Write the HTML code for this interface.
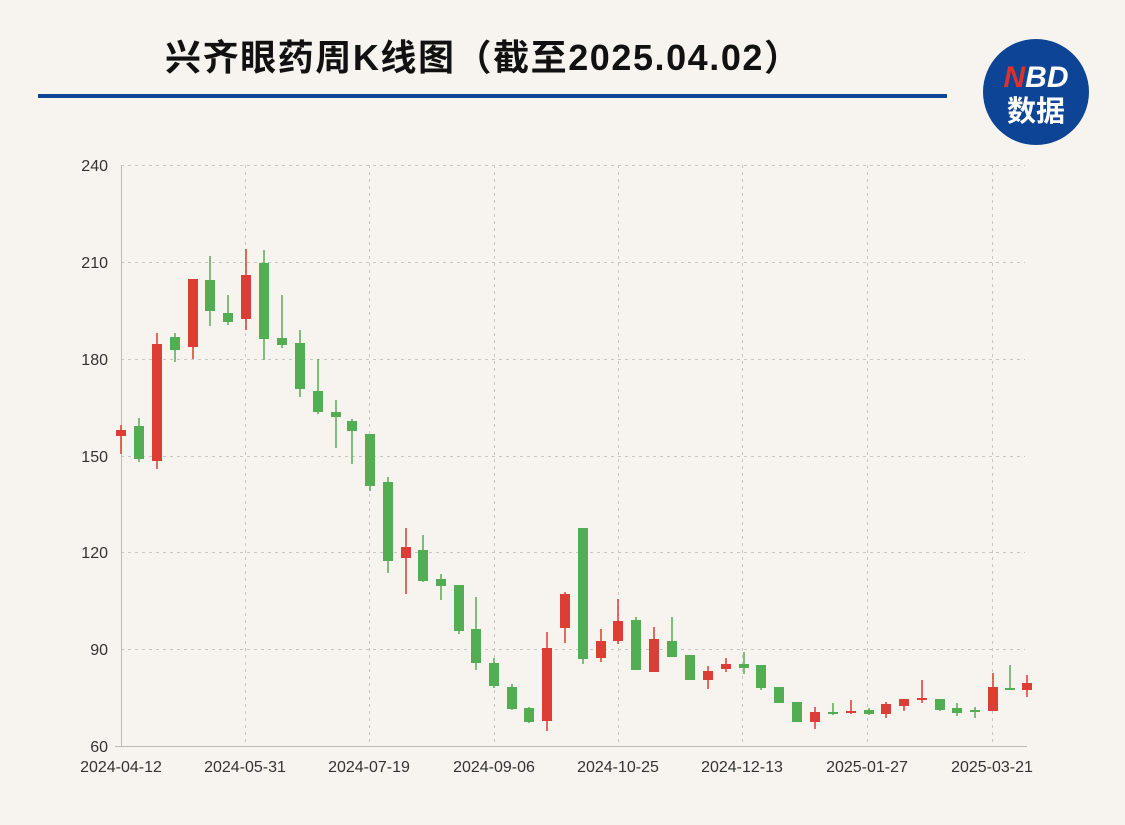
<!DOCTYPE html>
<html><head><meta charset="utf-8"><style>
body{margin:0;background:#f7f4ef;}
svg{display:block}
</style></head><body>
<svg width="1125" height="825" viewBox="0 0 1125 825" xmlns="http://www.w3.org/2000/svg" font-family="'Liberation Sans','Noto Sans CJK SC',sans-serif">
<rect width="1125" height="825" fill="#f7f4ef"/>
<text x="165" y="70" font-size="36" font-weight="bold" fill="#111" textLength="635" lengthAdjust="spacing" font-family="'Liberation Sans','Noto Sans CJK SC',sans-serif">兴齐眼药周K线图（截至2025.04.02）</text>
<rect x="38" y="94" width="909" height="4" fill="#0e4495"/>
<circle cx="1036" cy="92" r="53" fill="#0e4495"/>
<text x="1036" y="87" text-anchor="middle" font-size="30" font-weight="bold" fill="#fff" font-style="italic"><tspan fill="#e0302a">N</tspan>BD</text>
<text x="1036" y="121" text-anchor="middle" font-size="29" font-weight="bold" fill="#fff" font-family="'Noto Sans CJK SC',sans-serif">数据</text>
<g stroke="#c8c6c2" stroke-width="1" stroke-dasharray="3,4">
<line x1="121" y1="165.5" x2="1025" y2="165.5"/>
<line x1="121" y1="262.5" x2="1025" y2="262.5"/>
<line x1="121" y1="359.5" x2="1025" y2="359.5"/>
<line x1="121" y1="456.5" x2="1025" y2="456.5"/>
<line x1="121" y1="552.5" x2="1025" y2="552.5"/>
<line x1="121" y1="649.5" x2="1025" y2="649.5"/>
<line x1="245.5" y1="165" x2="245.5" y2="746"/>
<line x1="369.5" y1="165" x2="369.5" y2="746"/>
<line x1="494.5" y1="165" x2="494.5" y2="746"/>
<line x1="618.5" y1="165" x2="618.5" y2="746"/>
<line x1="742.5" y1="165" x2="742.5" y2="746"/>
<line x1="867.5" y1="165" x2="867.5" y2="746"/>
<line x1="992.5" y1="165" x2="992.5" y2="746"/>
</g>
<line x1="121.5" y1="165" x2="121.5" y2="746" stroke="#bdbbb7"/>
<line x1="115" y1="746.5" x2="1027" y2="746.5" stroke="#bdbbb7"/>
<g font-size="16" fill="#333" text-anchor="end">
<text x="108" y="171">240</text><text x="108" y="268">210</text><text x="108" y="365">180</text>
<text x="108" y="462">150</text><text x="108" y="558">120</text><text x="108" y="655">90</text><text x="108" y="752">60</text>
</g>
<g font-size="16" fill="#333" text-anchor="middle">
<text x="121" y="772">2024-04-12</text><text x="245" y="772">2024-05-31</text><text x="369" y="772">2024-07-19</text>
<text x="494" y="772">2024-09-06</text><text x="618" y="772">2024-10-25</text><text x="742" y="772">2024-12-13</text>
<text x="867" y="772">2025-01-27</text><text x="992" y="772">2025-03-21</text>
</g>
<g stroke="#dc3d34" stroke-width="1.5">
<line x1="121" x2="121" y1="425" y2="454"/><line x1="157" x2="157" y1="333" y2="469"/><line x1="193" x2="193" y1="279" y2="359"/>
<line x1="246" x2="246" y1="249" y2="330"/><line x1="406" x2="406" y1="528" y2="594"/><line x1="547" x2="547" y1="632" y2="731"/>
<line x1="565" x2="565" y1="592" y2="643"/><line x1="601" x2="601" y1="629" y2="662"/><line x1="618" x2="618" y1="599" y2="644"/>
<line x1="654" x2="654" y1="627" y2="672"/><line x1="708" x2="708" y1="666" y2="689"/><line x1="726" x2="726" y1="658" y2="672"/>
<line x1="815" x2="815" y1="707" y2="729"/><line x1="851" x2="851" y1="700" y2="714"/><line x1="886" x2="886" y1="702" y2="718"/>
<line x1="904" x2="904" y1="699" y2="711"/><line x1="922" x2="922" y1="680" y2="703"/><line x1="993" x2="993" y1="673" y2="711"/>
<line x1="1027" x2="1027" y1="675" y2="697"/>
</g>
<g fill="#dc3d34">
<rect x="116" y="430" width="10" height="6"/><rect x="152" y="344" width="10" height="117"/><rect x="188" y="279" width="10" height="68"/>
<rect x="241" y="275" width="10" height="44"/><rect x="401" y="547" width="10" height="11"/><rect x="542" y="648" width="10" height="73"/>
<rect x="560" y="594" width="10" height="34"/><rect x="596" y="641" width="10" height="17"/><rect x="613" y="621" width="10" height="20"/>
<rect x="649" y="639" width="10" height="33"/><rect x="703" y="671" width="10" height="9"/><rect x="721" y="664" width="10" height="5"/>
<rect x="810" y="712" width="10" height="10"/><rect x="846" y="711" width="10" height="2"/><rect x="881" y="704" width="10" height="10"/>
<rect x="899" y="699" width="10" height="7"/><rect x="917" y="698" width="10" height="2"/><rect x="988" y="687" width="10" height="24"/>
<rect x="1022" y="683" width="10" height="7"/>
</g>
<g stroke="#53ad52" stroke-width="1.5">
<line x1="139" x2="139" y1="418" y2="462"/><line x1="175" x2="175" y1="333" y2="362"/><line x1="210" x2="210" y1="256" y2="326"/>
<line x1="228" x2="228" y1="295" y2="325"/><line x1="264" x2="264" y1="250" y2="360"/><line x1="282" x2="282" y1="295" y2="348"/>
<line x1="300" x2="300" y1="330" y2="397"/><line x1="318" x2="318" y1="359" y2="414"/><line x1="336" x2="336" y1="400" y2="448"/>
<line x1="352" x2="352" y1="419" y2="464"/><line x1="370" x2="370" y1="434" y2="491"/><line x1="388" x2="388" y1="477" y2="573"/>
<line x1="423" x2="423" y1="535" y2="582"/><line x1="441" x2="441" y1="574" y2="600"/><line x1="459" x2="459" y1="585" y2="634"/>
<line x1="476" x2="476" y1="597" y2="670"/><line x1="494" x2="494" y1="658" y2="688"/><line x1="512" x2="512" y1="684" y2="710"/>
<line x1="529" x2="529" y1="707" y2="723"/><line x1="583" x2="583" y1="528" y2="664"/><line x1="636" x2="636" y1="617" y2="670"/>
<line x1="672" x2="672" y1="617" y2="657"/><line x1="744" x2="744" y1="652" y2="674"/><line x1="761" x2="761" y1="665" y2="690"/>
<line x1="833" x2="833" y1="703" y2="715"/><line x1="869" x2="869" y1="708" y2="715"/><line x1="940" x2="940" y1="699" y2="711"/>
<line x1="957" x2="957" y1="703" y2="716"/><line x1="975" x2="975" y1="707" y2="718"/><line x1="1010" x2="1010" y1="665" y2="690"/>
</g>
<g fill="#53ad52">
<rect x="134" y="426" width="10" height="33"/><rect x="170" y="337" width="10" height="13"/><rect x="205" y="280" width="10" height="31"/>
<rect x="223" y="313" width="10" height="9"/><rect x="259" y="263" width="10" height="76"/><rect x="277" y="338" width="10" height="7"/>
<rect x="295" y="343" width="10" height="46"/><rect x="313" y="391" width="10" height="21"/><rect x="331" y="412" width="10" height="5"/>
<rect x="347" y="421" width="10" height="10"/><rect x="365" y="434" width="10" height="52"/><rect x="383" y="482" width="10" height="79"/>
<rect x="418" y="550" width="10" height="31"/><rect x="436" y="579" width="10" height="7"/><rect x="454" y="585" width="10" height="46"/>
<rect x="471" y="629" width="10" height="34"/><rect x="489" y="663" width="10" height="23"/><rect x="507" y="687" width="10" height="22"/>
<rect x="524" y="708" width="10" height="14"/><rect x="578" y="528" width="10" height="131"/><rect x="631" y="620" width="10" height="50"/>
<rect x="667" y="641" width="10" height="16"/><rect x="685" y="655" width="10" height="25"/><rect x="739" y="664" width="10" height="4"/>
<rect x="756" y="665" width="10" height="23"/><rect x="774" y="687" width="10" height="16"/><rect x="792" y="702" width="10" height="20"/>
<rect x="828" y="712" width="10" height="2"/><rect x="864" y="710" width="10" height="4"/><rect x="935" y="699" width="10" height="11"/>
<rect x="952" y="708" width="10" height="5"/><rect x="970" y="710" width="10" height="2"/><rect x="1005" y="688" width="10" height="2"/>
</g>
</svg>
</body></html>
